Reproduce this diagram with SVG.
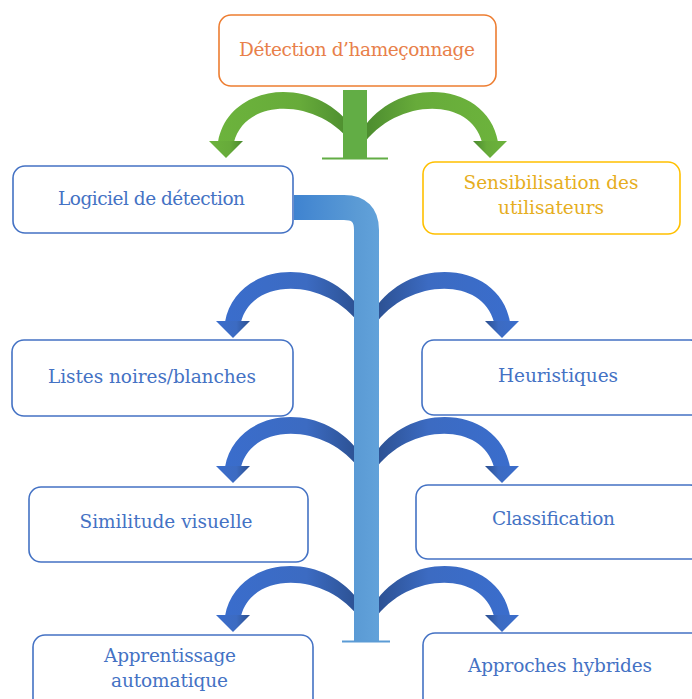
<svg xmlns="http://www.w3.org/2000/svg" xmlns:xlink="http://www.w3.org/1999/xlink" width="692" height="699" viewBox="0 0 692 699">
  <style>
    .box { fill: #ffffff; stroke-width: 1.6; }
    .blue { stroke: #4472C4; }
    .lbl { font-family: "DejaVu Serif", "Liberation Serif", serif; font-size: 18.5px; text-anchor: middle; fill: #4472C4; }
  </style>
  <defs>
    <linearGradient id="gBlueArc" x1="0" y1="0" x2="1" y2="0">
      <stop offset="0" stop-color="#3A6DCC"/>
      <stop offset="0.6" stop-color="#3C6BC2"/>
      <stop offset="1" stop-color="#2B4F8F"/>
    </linearGradient>
    <linearGradient id="gGreenArc" x1="0" y1="0" x2="1" y2="0">
      <stop offset="0" stop-color="#6CB33C"/>
      <stop offset="0.6" stop-color="#67AB3A"/>
      <stop offset="1" stop-color="#4A8A2E"/>
    </linearGradient>
    <linearGradient id="gStem" gradientUnits="userSpaceOnUse" x1="294" y1="0" x2="379" y2="0">
      <stop offset="0" stop-color="#3F83D0"/>
      <stop offset="0.75" stop-color="#5B9BD5"/>
      <stop offset="1" stop-color="#62A2DA"/>
    </linearGradient>
    <!-- curved branch arrow, tip at (-120,0), root at the stem (x=0) -->
    <g id="branch">
      <path d="M -128 -16 C -118 -75 -30 -85 8 -28 L 8 -12 C -25 -60 -100 -62 -112 -16 Z"/>
      <path d="M -137 -17 L -103 -17 L -120 0 Z"/>
    </g>
  </defs>

  <!-- connectors -->
  <g id="connectors">
    <!-- green split under the root -->
    <g fill="url(#gGreenArc)">
      <use xlink:href="#branch" transform="translate(346,158)"/>
      <use xlink:href="#branch" transform="translate(370,158) scale(-1,1)"/>
    </g>
    <rect x="343" y="90" width="24" height="68" fill="#62AD45"/>
    <line x1="322" y1="158.5" x2="388" y2="158.5" stroke="#62AD45" stroke-width="2"/>

    <!-- blue branches -->
    <g fill="url(#gBlueArc)">
      <use xlink:href="#branch" transform="translate(353,338)"/>
      <use xlink:href="#branch" transform="translate(382,338) scale(-1,1)"/>
      <use xlink:href="#branch" transform="translate(353,483)"/>
      <use xlink:href="#branch" transform="translate(382,483) scale(-1,1)"/>
      <use xlink:href="#branch" transform="translate(353,632)"/>
      <use xlink:href="#branch" transform="translate(382,632) scale(-1,1)"/>
    </g>
    <!-- blue stem -->
    <path d="M 294 207.5 H 344 Q 366.5 207.5 366.5 230 V 641" fill="none" stroke="url(#gStem)" stroke-width="25"/>
    <line x1="342" y1="641.5" x2="390" y2="641.5" stroke="#5B9BD5" stroke-width="2"/>
  </g>

  <!-- nodes -->
  <g id="node-root">
    <rect class="box" x="219" y="15" width="277" height="71" rx="12" stroke="#ED7D31"/>
    <text class="lbl" x="357" y="56" style="fill:#E8804A" textLength="236">Détection d’hameçonnage</text>
  </g>
  <g id="node-logiciel">
    <rect class="box blue" x="13" y="166" width="280" height="67" rx="12"/>
    <text class="lbl" x="151.5" y="205" textLength="187">Logiciel de détection</text>
  </g>
  <g id="node-sensibilisation">
    <rect class="box" x="423" y="162" width="257" height="72" rx="12" stroke="#FFC000"/>
    <text class="lbl" x="551" y="189" style="fill:#E6AE1E" textLength="175">Sensibilisation des</text>
    <text class="lbl" x="551" y="214" style="fill:#E6AE1E" textLength="106">utilisateurs</text>
  </g>
  <g id="node-listes">
    <rect class="box blue" x="12" y="340" width="281" height="76" rx="12"/>
    <text class="lbl" x="152" y="383" textLength="208">Listes noires/blanches</text>
  </g>
  <g id="node-heuristiques">
    <rect class="box blue" x="422" y="340" width="280" height="75" rx="12"/>
    <text class="lbl" x="558" y="382" textLength="120">Heuristiques</text>
  </g>
  <g id="node-similitude">
    <rect class="box blue" x="29" y="487" width="279" height="75" rx="12"/>
    <text class="lbl" x="166" y="528" textLength="173">Similitude visuelle</text>
  </g>
  <g id="node-classification">
    <rect class="box blue" x="416" y="485" width="286" height="74" rx="12"/>
    <text class="lbl" x="553.5" y="525" textLength="123">Classification</text>
  </g>
  <g id="node-apprentissage">
    <rect class="box blue" x="33" y="635" width="280" height="80" rx="12"/>
    <text class="lbl" x="170" y="662" textLength="132">Apprentissage</text>
    <text class="lbl" x="169.5" y="687" textLength="117">automatique</text>
  </g>
  <g id="node-hybrides">
    <rect class="box blue" x="423" y="633" width="280" height="80" rx="12"/>
    <text class="lbl" x="560" y="672" textLength="184">Approches hybrides</text>
  </g>
</svg>
